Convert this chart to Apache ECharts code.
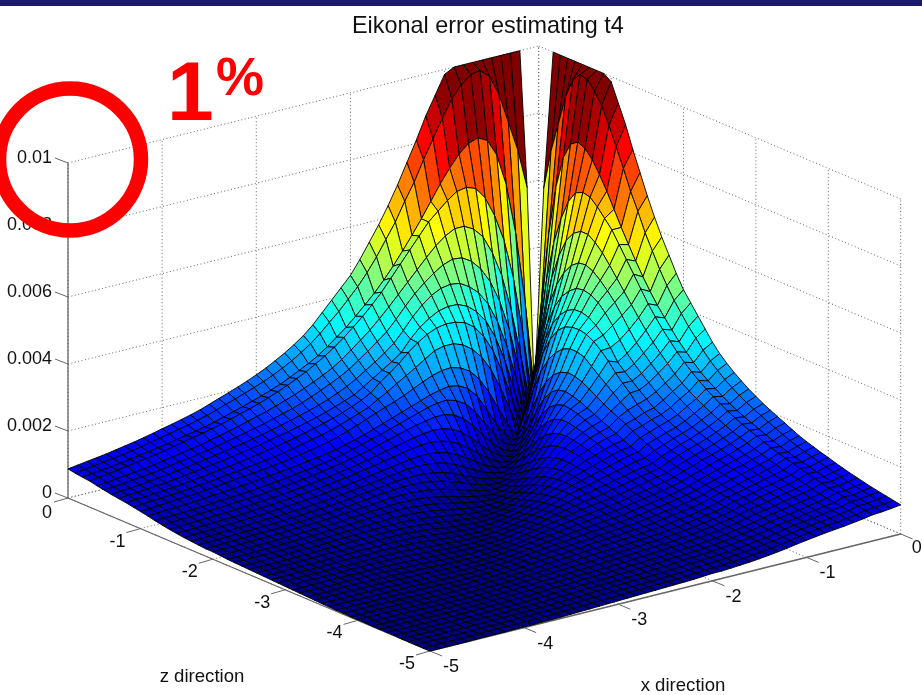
<!DOCTYPE html>
<html><head><meta charset="utf-8">
<style>html,body{margin:0;padding:0;background:#fff}#c{width:922px;height:695px}</style>
<script src="https://cdn.jsdelivr.net/npm/echarts@6/dist/echarts.min.js"></script>
</head><body><div id="c"></div>
<script>
var titleText = 'Eikonal error estimating t4';
var xTicks = [-5,-4,-3,-2,-1,0];
var zTicks = [0,-1,-2,-3,-4,-5];
var yTicks = [0,0.002,0.004,0.006,0.008,0.01];
var yLabels = ['0','0.002','0.004','0.006','0.008','0.01'];
var gridStep = 0.1;
var unit = 1e-5;
// upper triangle of the surface: row k is z=-k*step, entry n is x=-(k+n)*step; unit 1e-5
var rows = [
[null,null,1000,1000,1000,1000,1000,1000,1000,1000,985,930,875,810,750,690,635,585,540,495,455,425,395,365,335,310,290,272,256,241,228,216,205,195,185,175,165,157,150,143,137,130,124,118,113,108,103,99,95,91,87],
[null,600,720,810,900,960,985,980,955,920,870,815,760,700,650,595,550,505,465,430,400,370,345,318,295,276,258,243,229,217,206,196,186,177,167,158,150,143,137,131,125,119,113,108,103,99,95,91,87,83],
[0,280,490,640,735,785,800,790,765,730,690,645,600,558,518,480,445,413,385,358,332,310,288,268,252,238,224,211,200,190,181,172,164,155,147,140,134,128,123,117,112,107,103,98,94,91,87,84,80],
[0,200,370,490,570,630,665,675,670,650,625,600,565,530,495,460,425,395,367,342,318,296,277,260,244,230,217,205,194,184,175,167,158,150,143,137,131,125,119,113,108,103,99,95,90,86,82,78],
[0,150,290,400,475,530,560,575,575,560,538,510,480,450,420,390,362,335,312,290,268,250,235,222,210,198,188,178,169,161,153,145,138,131,125,118,113,108,103,98,93,89,85,82,79,76,73],
[0,130,250,340,405,450,480,497,500,490,472,450,425,395,362,332,310,288,268,248,232,219,206,194,183,173,165,157,149,142,135,129,123,117,111,106,101,97,93,88,84,81,78,75,72,69],
[0,110,215,295,355,395,420,437,441,436,422,400,372,338,307,285,265,247,229,213,200,188,178,169,161,153,146,139,132,126,120,115,110,105,100,95,91,87,83,79,76,73,70,68,65],
[0,95,190,265,320,355,378,390,391,385,370,350,322,288,268,250,232,214,197,186,176,166,158,150,143,136,130,124,118,113,108,103,98,94,90,86,82,78,74,72,69,67,65,62],
[0,85,170,240,290,325,345,353,355,350,338,320,298,272,250,230,205,190,178,167,157,149,141,134,127,121,115,110,105,100,95,91,87,83,79,76,72,69,67,65,63,61,59],
[0,70,140,200,245,275,295,305,305,298,280,262,245,228,210,195,178,167,157,147,138,130,124,117,111,105,100,96,92,88,84,81,77,74,71,68,65,63,61,59,57,55],
[0,40,95,150,195,225,242,250,248,240,228,215,202,190,180,170,158,147,137,127,119,113,107,102,97,93,89,85,82,79,76,72,69,66,63,61,59,57,55,53,51],
[0,25,65,115,160,190,205,210,205,198,188,178,168,158,148,138,128,120,112,105,100,95,91,87,83,80,76,73,70,67,64,62,60,57,55,53,51,50,48,47],
[0,18,50,90,130,160,177,185,183,177,168,159,150,141,132,124,116,108,100,94,89,84,80,76,72,68,65,62,59,57,55,53,51,49,47,45,44,43,42],
[0,14,40,72,105,132,150,158,158,153,147,140,132,124,116,108,101,95,89,84,79,74,70,67,63,60,57,55,53,51,49,47,45,44,42,41,39,38],
[0,11,32,58,85,108,124,132,134,131,126,120,113,107,100,94,88,83,78,73,69,65,61,58,55,52,50,48,46,44,42,41,39,38,37,35,34],
[0,9,26,47,69,89,103,111,114,113,109,104,98,93,87,82,77,72,68,64,60,57,54,51,48,46,44,42,40,38,37,36,34,33,32,31],
[0,7,20,38,56,73,85,93,96,96,93,89,84,80,75,71,66,62,59,55,52,49,47,44,42,40,38,37,35,34,33,31,30,29,28],
[0,6,16,30,45,60,71,78,81,82,80,77,73,69,65,61,57,54,50,47,45,42,40,38,37,35,34,32,31,30,29,28,27,26],
[0,5,13,25,37,49,59,65,69,70,69,67,64,60,56,53,49,46,44,41,39,37,35,34,32,31,30,29,28,27,26,25,24],
[0,4,11,20,31,41,49,55,59,60,60,58,56,53,49,46,43,41,38,36,34,33,31,30,29,28,27,26,25,24,23,22],
[0,3,9,17,26,34,41,46,49,51,51,50,48,45,43,40,38,36,34,32,31,30,28,27,26,25,25,24,23,23,22],
[0,3,8,14,21,28,34,39,42,44,44,43,41,39,37,35,33,31,30,28,27,26,25,24,23,22,22,21,20,20],
[0,2,6,12,18,24,29,33,36,38,38,37,36,34,33,31,29,28,26,25,24,23,22,21,20,20,19,18,18],
[0,2,5,10,15,20,25,28,31,32,33,32,31,30,28,27,26,24,23,22,21,20,19,19,18,18,17,17],
[0,2,4,8,13,17,21,24,26,28,28,28,27,26,25,24,23,21,20,19,19,18,17,17,16,16,16],
[0,1,4,7,11,15,18,21,23,24,24,24,23,23,22,21,20,19,18,17,17,16,16,15,15,15],
[0,1,3,6,9,13,16,18,20,21,21,21,20,20,19,18,18,17,16,16,15,15,14,14,14],
[0,1,3,5,8,11,14,16,17,18,18,18,18,17,17,16,15,15,14,14,14,13,13,13],
[0,1,2,4,7,9,12,14,15,16,16,16,15,15,15,14,14,13,13,13,12,12,12],
[0,1,2,4,6,8,10,12,13,14,14,14,13,13,13,13,12,12,12,12,11,11],
[0,1,2,3,5,7,9,10,11,12,12,12,12,12,11,11,11,11,11,10,10],
[0,1,2,3,4,6,7,8,9,10,10,10,10,10,10,10,9,9,9,9],
[0,0,1,2,4,5,6,7,8,8,9,9,9,9,8,8,8,8,8],
[0,0,1,2,3,4,5,6,7,7,7,7,8,8,7,7,7,7],
[0,0,1,2,3,4,4,5,6,6,6,6,6,6,6,6,6],
[0,0,1,2,2,3,4,4,5,5,5,5,5,5,5,5],
[0,0,1,1,2,3,3,4,4,4,4,4,4,4,4],
[0,0,1,1,2,2,3,3,3,3,3,3,3,3],
[0,0,1,1,1,2,2,2,3,3,3,3,3],
[0,0,0,1,1,2,2,2,2,2,2,2],
[0,0,0,1,1,1,2,2,2,2,2],
[0,0,0,1,1,1,1,1,2,2],
[0,0,0,0,1,1,1,1,1],
[0,0,0,0,1,1,1,1],
[0,0,0,0,0,1,1],
[0,0,0,0,0,1],
[0,0,0,0,0],
[0,0,0,0],
[0,0,0],
[0,0],
[0]
];
rows.forEach(function(r,k){ if(r.length!==51-k) throw new Error('row '+k+' has '+r.length); });

function height(j,k){ var a=Math.min(j,k), b=Math.max(j,k); return rows[a][b-a]; }

// view of the box
var view = {ox:68, oy:498, xx:94.14, xy:-23.4, zx:72.4, zy:30.6, h:33500};
function project(x,z,y){
  return [view.ox+(x+5)*view.xx+(-z)*view.zx, view.oy+(x+5)*view.xy+(-z)*view.zy-y*view.h];
}
var jetStops=[[0,0,0,.5],[.125,0,0,1],[.375,0,1,1],[.625,1,1,0],[.875,1,0,0],[1,.5,0,0]];
function jet(t){
  t=Math.max(0,Math.min(1,t));
  for(var i=1;i<jetStops.length;i++){ if(t<=jetStops[i][0]){
    var a=jetStops[i-1],b=jetStops[i],f=(t-a[0])/(b[0]-a[0]);
    return 'rgb('+[1,2,3].map(function(c){return Math.round(255*(a[c]+(b[c]-a[c])*f));}).join(',')+')';
  }}
  return 'rgb(128,0,0)';
}
var n = rows.length;
var cells=[];
for(var k=0;k<n-1;k++)for(var j=0;j<n-1;j++){
  var v=[height(j,k),height(j+1,k),height(j+1,k+1),height(j,k+1)];
  if(v.indexOf(null)<0) cells.push([j,k]);
}
cells.sort(function(a,b){return (a[0]+a[1])-(b[0]+b[1]);});

// box lines
var yMax=yTicks[yTicks.length-1], xMax=0, zMax=0, xMin=-5, zMin=-5;
var dotted=[];
yTicks.forEach(function(y){
  dotted.push([[xMin,zMax,y],[xMax,zMax,y]]);
  dotted.push([[xMax,zMax,y],[xMax,zMin,y]]);
});
xTicks.forEach(function(x){
  dotted.push([[x,zMax,0],[x,zMax,yMax]]);
  dotted.push([[x,zMax,0],[x,zMin,0]]);
});
zTicks.forEach(function(z){
  dotted.push([[xMax,z,0],[xMax,z,yMax]]);
  dotted.push([[xMin,z,0],[xMax,z,0]]);
});
var solid=[[[xMin,zMax,0],[xMin,zMax,yMax]],[[xMin,zMax,0],[xMin,zMin,0]],[[xMin,zMin,0],[xMax,zMin,0]]];
var font='Liberation Sans, Arial, sans-serif';
var tickLabels=[];
yTicks.forEach(function(y,i){ tickLabels.push({p:[xMin,zMax,y],text:yLabels[i],dx:-16,dy:-5,align:'right'}); });
zTicks.forEach(function(z){ tickLabels.push({p:[xMin,z,0],text:String(z),dx:z===0?-21:-23,dy:z===0?15:13,align:'center'}); });
xTicks.forEach(function(x){ tickLabels.push({p:[x,zMin,0],text:String(x),dx:x===0?16:21,dy:x===0?14:16,align:'center'}); });
var tickMarks=[];
yTicks.forEach(function(y){ tickMarks.push({p:[xMin,zMax,y],dx:-13,dy:-5}); });
zTicks.forEach(function(z){ tickMarks.push({p:[xMin,z,0],dx:-14,dy:4}); });
xTicks.forEach(function(x){ tickMarks.push({p:[x,zMin,0],dx:12,dy:5}); });

function seg(kind,list,style){
  return {type:'custom',coordinateSystem:'cartesian2d',clip:false,silent:true,animation:false,progressive:0,z:kind,
    data:list.map(function(_,i){return [i,i];}),
    renderItem:function(params,api){
      var s=list[params.dataIndex];
      var a=api.coord(project(s[0][0],s[0][1],s[0][2])),b=api.coord(project(s[1][0],s[1][1],s[1][2]));
      return {type:'line',shape:{x1:a[0],y1:a[1],x2:b[0],y2:b[1]},style:style,silent:true};
    }};
}
var option={
  animation:false,
  backgroundColor:'#fff',
  title:{text:titleText,left:352,top:15,padding:0,textStyle:{fontFamily:font,fontSize:23.4,fontWeight:'normal',color:'#111'}},
  grid:{left:0,top:0,width:922,height:695},
  xAxis:{type:'value',min:0,max:922,show:false},
  yAxis:{type:'value',min:0,max:695,inverse:true,show:false},
  tooltip:{show:false},
  series:[
    seg(1,dotted,{stroke:'#666',lineWidth:1,lineDash:[1,2.5],fill:null}),
    seg(2,solid,{stroke:'#666',lineWidth:1.3,fill:null}),
    {type:'custom',coordinateSystem:'cartesian2d',clip:false,silent:true,animation:false,progressive:0,z:2,
     data:tickMarks.map(function(_,i){return [i,i];}),
     renderItem:function(params,api){
       var t=tickMarks[params.dataIndex],a=api.coord(project(t.p[0],t.p[1],t.p[2]));
       return {type:'line',shape:{x1:a[0],y1:a[1],x2:a[0]+t.dx,y2:a[1]+t.dy},style:{stroke:'#666',lineWidth:1},silent:true};
     }},
    {type:'custom',coordinateSystem:'cartesian2d',clip:false,silent:true,animation:false,progressive:0,z:3,
     data:cells,
     renderItem:function(params,api){
       var c=cells[params.dataIndex],j=c[0],k=c[1];
       var corners=[[j,k],[j+1,k],[j+1,k+1],[j,k+1]];
       var pts=corners.map(function(q){
         return api.coord(project(-q[0]*gridStep,-q[1]*gridStep,height(q[0],q[1])*unit));
       });
       return {type:'polygon',shape:{points:pts},style:{fill:jet(height(j,k)*unit/yMax),stroke:'#000',lineWidth:0.9},silent:true};
     }},
    {type:'custom',coordinateSystem:'cartesian2d',clip:false,silent:true,animation:false,progressive:0,z:4,
     data:tickLabels.map(function(_,i){return [i,i];}),
     renderItem:function(params,api){
       var t=tickLabels[params.dataIndex],a=api.coord(project(t.p[0],t.p[1],t.p[2]));
       return {type:'text',x:a[0]+t.dx,y:a[1]+t.dy,style:{text:t.text,fill:'#111',font:'18px '+font,align:t.align,verticalAlign:'middle'},silent:true};
     }}
  ],
  graphic:[
    {type:'rect',z:100,silent:true,shape:{x:0,y:0,width:922,height:6},style:{fill:'#1a1a66'}},
    {type:'text',z:100,silent:true,x:202,y:677,style:{text:'z direction',fill:'#111',font:'18.6px '+font,align:'center',verticalAlign:'middle'}},
    {type:'text',z:100,silent:true,x:683,y:686,style:{text:'x direction',fill:'#111',font:'18.6px '+font,align:'center',verticalAlign:'middle'}},
    {type:'circle',z:100,silent:true,shape:{cx:70,cy:159.5,r:71},style:{fill:'none',stroke:'#ff0000',lineWidth:14.5}},
    {type:'text',z:100,silent:true,x:167,y:97,style:{text:'1',fill:'#ff0000',font:'bold 84px '+font,align:'left',verticalAlign:'middle'}},
    {type:'text',z:100,silent:true,x:240,y:80,style:{text:'%',fill:'#ff0000',font:'bold 54px '+font,align:'center',verticalAlign:'middle'}}
  ]
};
var chart=echarts.init(document.getElementById('c'),null,{renderer:'canvas'});
chart.setOption(option);
</script></body></html>
